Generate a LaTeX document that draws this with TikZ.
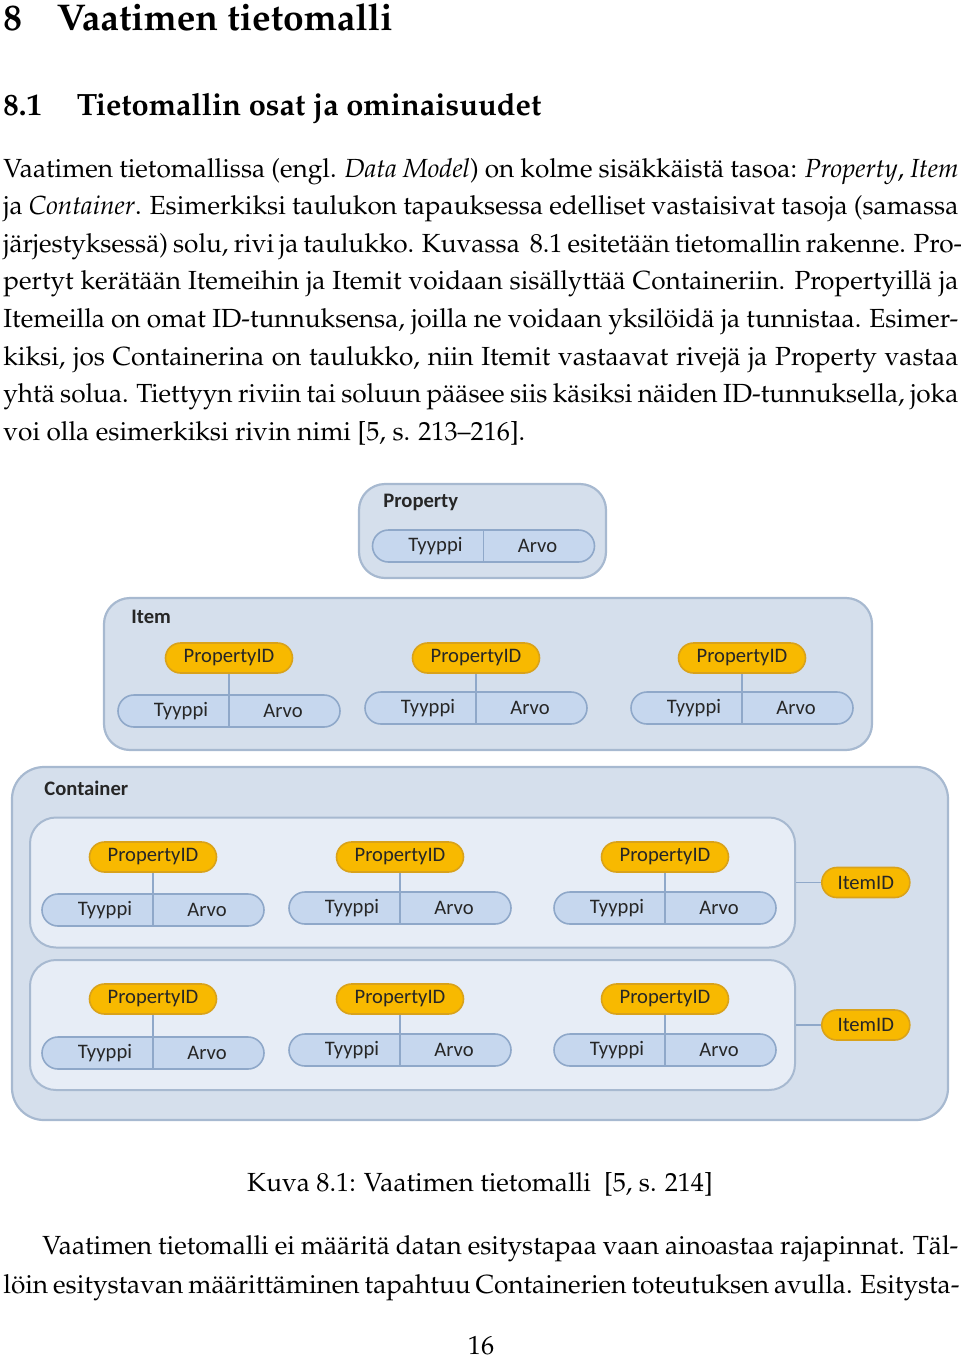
\documentclass[tikz,border=0pt]{standalone}
\usepackage[T1]{fontenc}
\usepackage{fontspec}
\newfontfamily\diafont{Carlito}
\newcommand{\pagefont}{\fontencoding{T1}\fontfamily{ppl}\selectfont}
\usetikzlibrary{positioning}
\definecolor{framefill}{HTML}{D5DFEC}
\definecolor{frameline}{HTML}{A7B9D0}
\definecolor{rowfill}{HTML}{E7EDF6}
\definecolor{fieldfill}{HTML}{C6D7EE}
\definecolor{fieldline}{HTML}{8FA8C9}
\definecolor{idfill}{HTML}{F8B900}
\definecolor{idline}{HTML}{D9A21A}
\definecolor{diatext}{HTML}{262626}
\newcommand{\pu}{0.5pt}
% one PropertyID with its Tyyppi/Arvo field
\newcommand{\propgroup}[4]{%
  \node[idpill] (#1-id) at (#2,#3) {PropertyID};
  \node[field] (#1-f) at (#2,#4) {};
  \node[fieldtxt] at ([xshift=-48*\pu]#1-f.center) {Tyyppi};
  \node[fieldtxt] at ([xshift=54*\pu]#1-f.center) {Arvo};
  \draw[divider] (#1-id) -- (#1-f.south);}

\begin{document}
\begin{tikzpicture}[x=\pu, y=-\pu,
  frame/.style={draw=frameline, line width=1.1pt, fill=framefill,
                rounded corners=13pt, inner sep=0pt},
  row/.style={draw=frameline, line width=1pt, fill=rowfill, rounded corners=13pt,
              minimum width=765*\pu, minimum height=130*\pu, inner sep=0pt},
  field/.style={draw=fieldline, line width=0.8pt, fill=fieldfill, rounded corners=8pt,
                minimum width=222*\pu, minimum height=32*\pu, inner sep=0pt},
  idpill/.style={draw=idline, fill=idfill, line width=0.8pt, rounded corners=7.5pt,
                 minimum width=127*\pu, minimum height=30*\pu, inner sep=0pt,
                 font=\diafont\fontsize{10.3}{12}\selectfont, text=diatext},
  fieldtxt/.style={font=\diafont\fontsize{10.3}{12}\selectfont, text=diatext, inner sep=0pt},
  framelabel/.style={anchor=west, font=\diafont\bfseries\fontsize{10.3}{12}\selectfont,
                     text=diatext, inner sep=0pt},
  divider/.style={draw=fieldline, line width=0.6pt},
  textline/.style={anchor=base west, inner sep=0pt,
                   font=\pagefont\fontsize{13.1}{18.8}\selectfont}]
  \useasboundingbox (0,0) rectangle (960,1361);
  % otsikot
  \node[anchor=base west, inner sep=0pt, font=\pagefont\bfseries\fontsize{18.6}{22}\selectfont]
    (chap) at (3,30) {8\hspace{17.5pt}Vaatimen tietomalli};
  \node[anchor=base west, inner sep=0pt, font=\pagefont\bfseries\fontsize{15.4}{19}\selectfont]
    (sec) at (3,115) {8.1\hspace{17.5pt}Tietomallin osat ja ominaisuudet};
  % kappale 1
  \node[textline] (p1) at (3,177) {\makebox[477.5pt][s]{Vaatimen tietomallissa (engl. \emph{Data Model}) on kolme sisäkkäistä tasoa: \emph{Property}, \emph{Item}}};
  \node[textline] (p2) at (3,214.6) {\makebox[477.5pt][s]{ja \emph{Container}. Esimerkiksi taulukon tapauksessa edelliset vastaisivat tasoja (samassa}};
  \node[textline] (p3) at (3,252.2) {\makebox[477.5pt][s]{järjestyksessä) solu, rivi ja taulukko. Kuvassa\ \ 8.1 esitetään tietomallin rakenne. Pro-}};
  \node[textline] (p4) at (3,289.8) {\makebox[477.5pt][s]{pertyt kerätään Itemeihin ja Itemit voidaan sisällyttää Containeriin. Propertyillä ja}};
  \node[textline] (p5) at (3,327.4) {\makebox[477.5pt][s]{Itemeilla on omat ID-tunnuksensa, joilla ne voidaan yksilöidä ja tunnistaa. Esimer-}};
  \node[textline] (p6) at (3,365) {\makebox[477.5pt][s]{kiksi, jos Containerina on taulukko, niin Itemit vastaavat rivejä ja Property vastaa}};
  \node[textline] (p7) at (3,402.6) {\makebox[477.5pt][s]{yhtä solua. Tiettyyn riviin tai soluun pääsee siis käsiksi näiden ID-tunnuksella, joka}};
  \node[textline] (p8) at (3,440.2) {voi olla esimerkiksi rivin nimi [5, s. 213--216].};
  % Property
  \node[frame, minimum width=247*\pu, minimum height=94*\pu] (prop) at (482.5,531) {};
  \node[framelabel] (prop-lbl) at (383,502) {Property};
  \node[field] (prop-f) at (483.5,546) {};
  \node[fieldtxt] at ([xshift=-48*\pu]prop-f.center) {Tyyppi};
  \node[fieldtxt] at ([xshift=54*\pu]prop-f.center) {Arvo};
  \draw[divider] (prop-f.north) -- (prop-f.south);
  % Item
  \node[frame, minimum width=768*\pu, minimum height=152*\pu] (item) at (488,674) {};
  \node[framelabel] (item-lbl) at (131,617) {Item};
  \propgroup{it1}{229}{658}{711}
  \propgroup{it2}{476}{658}{708}
  \propgroup{it3}{742}{658}{708}
  % Container
  \node[frame, rounded corners=16pt, minimum width=936*\pu, minimum height=353*\pu]
    (cont) at (480,943.5) {};
  \node[framelabel] (cont-lbl) at (44,788) {Container};
  \node[row] (row1) at (412.5,882.5) {};
  \node[row] (row2) at (412.5,1025) {};
  \propgroup{ra1}{153}{857}{910}
  \propgroup{ra2}{400}{857}{908}
  \propgroup{ra3}{665}{857}{908}
  \propgroup{rb1}{153}{999}{1053}
  \propgroup{rb2}{400}{999}{1050}
  \propgroup{rb3}{665}{999}{1050}
  \node[idpill, minimum width=88*\pu, right=25*\pu of row1] (iid1) {ItemID};
  \node[idpill, minimum width=88*\pu, right=25*\pu of row2] (iid2) {ItemID};
  \draw[divider] (row1.east) -- (iid1.west);
  \draw[divider] (row2.east) -- (iid2.west);
  % kuvateksti ja kappale 2
  \node[anchor=base, inner sep=0pt, font=\pagefont\fontsize{13.1}{18.8}\selectfont]
    (cap) at (480,1191) {Kuva 8.1: Vaatimen tietomalli\ \ [5, s. 214]};
  \node[textline] (q1) at (42,1254) {\makebox[458pt][s]{Vaatimen tietomalli ei määritä datan esitystapaa vaan ainoastaa rajapinnat. Täl-}};
  \node[textline] (q2) at (3,1293) {\makebox[477.5pt][s]{löin esitystavan määrittäminen tapahtuu Containerien toteutuksen avulla. Esitysta-}};
  \node[anchor=base, inner sep=0pt, font=\pagefont\fontsize{13.1}{18.8}\selectfont]
    (pnum) at (481,1354) {16};
\end{tikzpicture}
\end{document}
